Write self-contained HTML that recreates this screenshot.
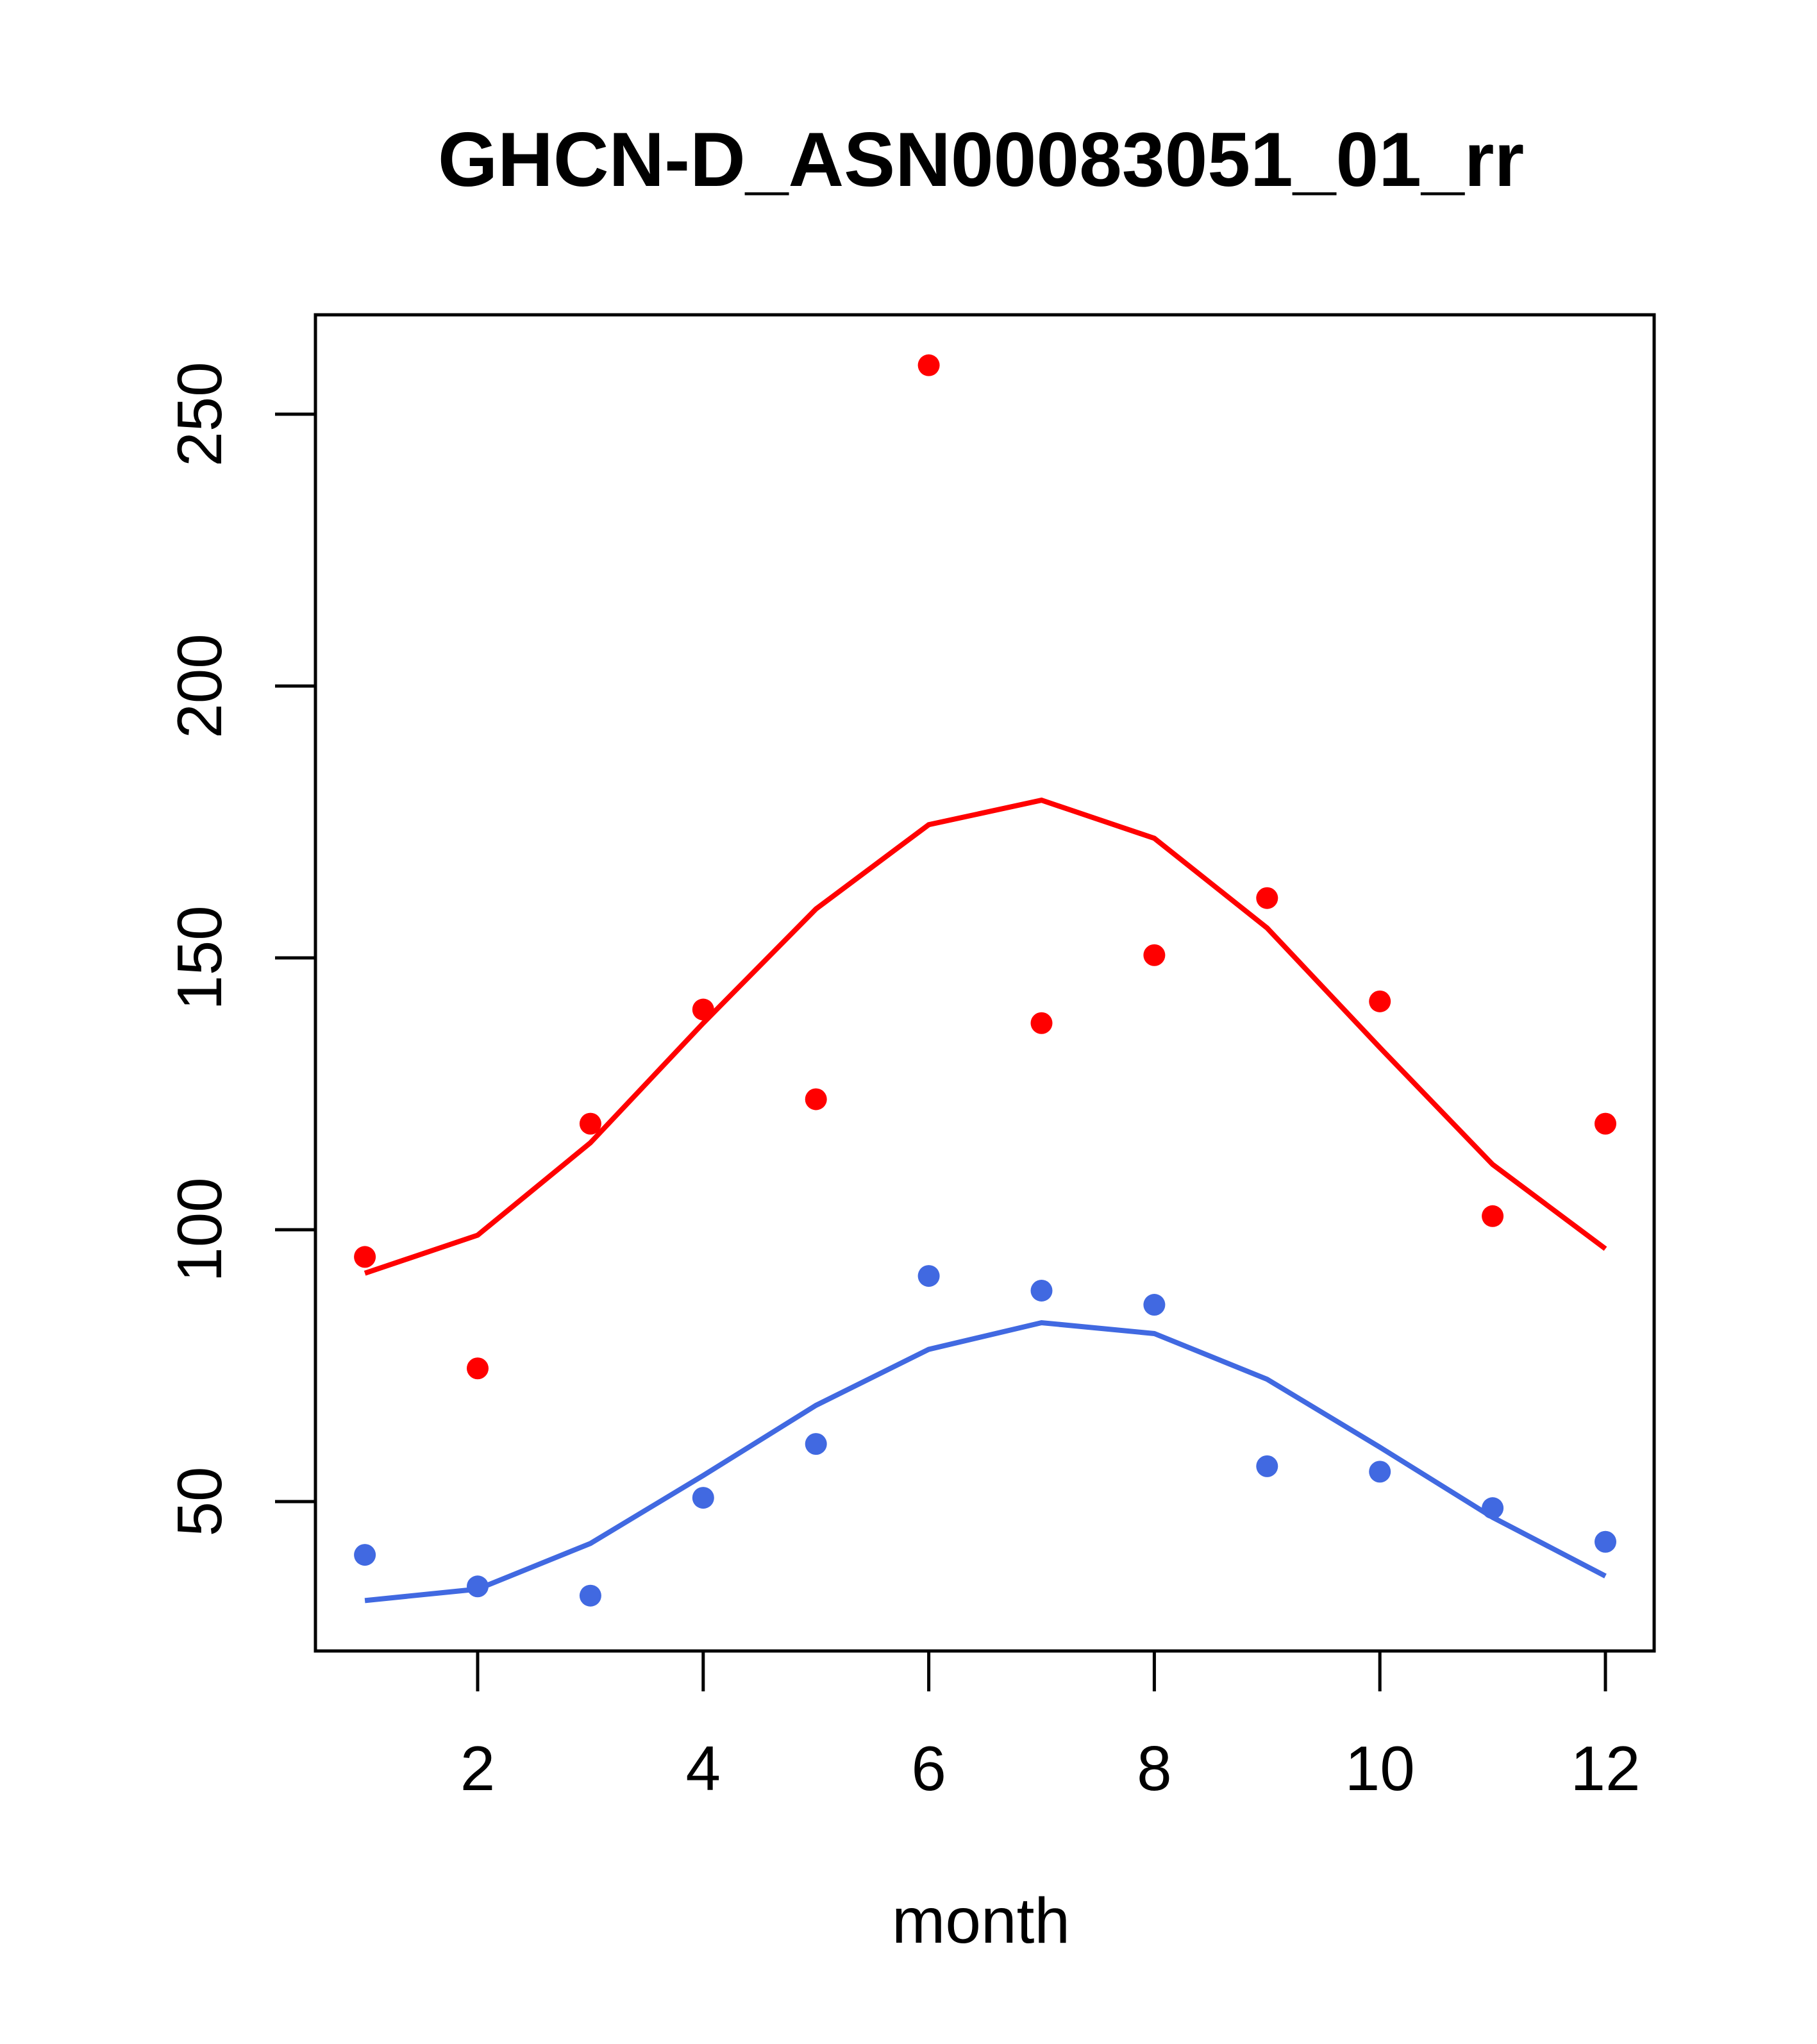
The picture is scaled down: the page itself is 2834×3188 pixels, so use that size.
<!DOCTYPE html>
<html><head><meta charset="utf-8"><style>html,body{margin:0;padding:0;background:#fff}svg{display:block}text{font-family:"Liberation Sans",sans-serif}</style></head>
<body>
<svg id="chart" width="2834" height="3188" viewBox="0 0 2834 3188" xmlns="http://www.w3.org/2000/svg">
<rect width="2834" height="3188" fill="#fff"/>
<text x="1530" y="290" font-size="120" font-weight="bold" text-anchor="middle">GHCN-D_ASN00083051_01_rr</text>
<rect x="492" y="491" width="2088" height="2084" fill="none" stroke="#000" stroke-width="5"/>
<g id="xaxis"></g>
<g id="yaxis"></g>
<g id="series"></g>
<text x="1530" y="3030" font-size="100" text-anchor="middle">month</text>
</svg>
<script>
const months=[1,2,3,4,5,6,7,8,9,10,11,12];
const redPoints=[95,74.5,119.5,140.5,124,259,138,150.5,161,142,102.5,119.5];
const redLine=[92,99,116,138,159,174.5,179,172,155.5,133.5,112,96.5];
const bluePoints=[40.2,34.4,32.7,50.7,60.6,91.5,88.8,86.2,56.5,55.5,48.8,42.6];
const blueLine=[31.8,33.9,42.3,54.8,67.7,78,82.9,80.9,72.5,60,47.1,36.3];
const xTicks=[2,4,6,8,10,12];
const yTicks=[50,100,150,200,250];
const NS="http://www.w3.org/2000/svg";
function sx(m){return 745+(m-2)*175.9;}
function sy(v){return 2342-(v-50)*8.48;}
function mk(t,a,p){const e=document.createElementNS(NS,t);for(const k in a)e.setAttribute(k,a[k]);p.appendChild(e);return e;}
const xa=document.getElementById('xaxis'),ya=document.getElementById('yaxis'),sr=document.getElementById('series');
xTicks.forEach(t=>{
 const l=mk('line',{x1:sx(t),x2:sx(t),y1:2575,y2:2638,stroke:'#000','stroke-width':5},xa);
 
 
 const tx=mk('text',{x:sx(t),y:2792,'font-size':98,'text-anchor':'middle'},xa);
 
 
 tx.textContent=t;
});
yTicks.forEach(t=>{
 const l=mk('line',{x1:429,x2:492,y1:sy(t),y2:sy(t),stroke:'#000','stroke-width':5},ya);
 
 
 const tx=mk('text',{x:0,y:0,'font-size':98,'text-anchor':'middle',transform:'translate(345,'+sy(t)+') rotate(-90)'},ya);
 
 
 tx.textContent=t;
});
function drawSeries(line,pts,col,name){
 const pl=mk('polyline',{points:months.map((m,i)=>sx(m)+','+sy(line[i])).join(' '),fill:'none',stroke:col,'stroke-width':8},sr);
 
 
 months.forEach((m,i)=>{
  const c=mk('circle',{cx:sx(m),cy:sy(pts[i]),r:17,fill:col},sr);
  
  
 });
}
drawSeries(redLine,redPoints,'#ff0000','red');
drawSeries(blueLine,bluePoints,'#4169e1','blue');
</script>
</body></html>
